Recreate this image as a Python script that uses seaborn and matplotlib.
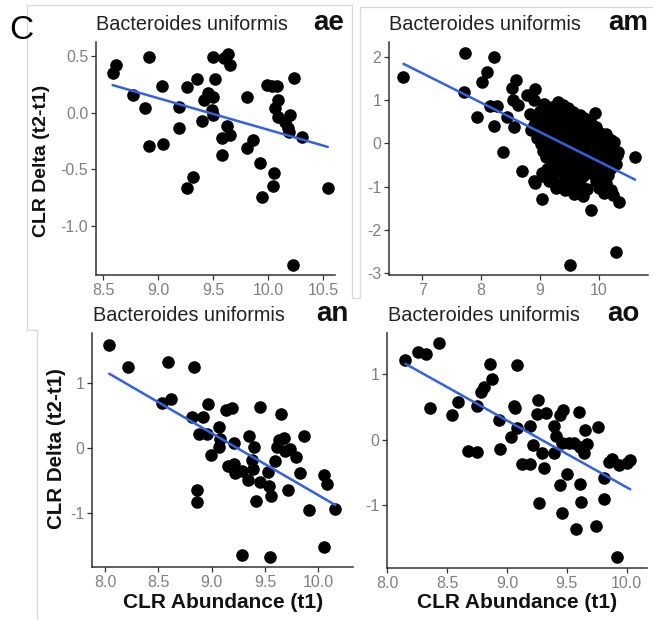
import matplotlib
matplotlib.use("Agg")
import matplotlib.pyplot as plt
from matplotlib.lines import Line2D
import seaborn as sns
import pandas as pd

# ---------------- data ----------------
title_text = "Bacteroides uniformis"
panel_tags = ["ae", "am", "an", "ao"]
ylabel_text = "CLR Delta (t2-t1)"
xlabel_text = "CLR Abundance (t1)"

ae_x = [8.585, 8.62, 8.77, 8.92, 8.88, 8.92, 9.045, 9.03, 9.19, 9.19, 9.26, 9.35, 9.26, 9.32,
        9.40, 9.42, 9.45, 9.50, 9.485, 9.50, 9.50, 9.515, 9.575, 9.575, 9.60, 9.636, 9.65, 9.62,
        9.65, 9.81, 9.81, 9.86, 9.92, 9.94, 9.985, 10.08, 10.03, 10.09, 10.06, 10.09, 10.15, 10.20,
        10.18, 10.19, 10.23, 10.05, 10.045, 10.31, 10.22, 10.54]
ae_y = [0.353, 0.42, 0.156, 0.494, 0.038, -0.29, -0.276, 0.235, 0.047, -0.138, 0.224, 0.294, -0.668, -0.57,
        -0.07, 0.112, 0.17, 0.14, 0.024, -0.02, 0.494, 0.30, -0.226, -0.37, 0.48, 0.52, 0.42, -0.12,
        -0.20, 0.135, -0.31, -0.24, -0.447, -0.747, 0.244, 0.235, 0.235, 0.11, 0.038, -0.035, -0.08, -0.02,
        -0.138, -0.17, 0.31, -0.535, -0.644, -0.21, -1.344, -0.665]

am_x = [6.68, 7.72, 8.21, 7.71, 7.93, 8.02, 8.09, 8.15, 8.26, 8.21, 8.37, 8.43, 8.52, 8.59, 8.54,
        8.63, 8.55, 8.69, 8.78, 8.92, 8.89, 8.83, 8.89, 9.03, 9.03, 9.50, 10.28, 10.61, 9.86, 10.34,
        9.06, 9.20, 9.30, 9.38, 9.47,
        9.00, 9.15, 9.25, 9.42, 9.55, 9.68, 9.93,
        8.98, 9.10, 9.20, 9.33, 9.50, 9.62, 9.75, 9.85,
        8.90, 9.05, 9.17, 9.28, 9.40, 9.52, 9.60, 9.70, 9.82, 9.95,
        8.85, 9.00, 9.12, 9.22, 9.35, 9.45, 9.57, 9.66, 9.78, 9.90, 10.02, 10.12,
        8.95, 9.08, 9.20, 9.30, 9.42, 9.50, 9.62, 9.72, 9.85, 9.96, 10.08, 10.20,
        9.02, 9.15, 9.27, 9.38, 9.48, 9.58, 9.68, 9.80, 9.90, 10.02, 10.15, 10.25,
        9.05, 9.20, 9.33, 9.45, 9.55, 9.65, 9.75, 9.88, 10.00, 10.10, 10.22, 10.32,
        9.10, 9.25, 9.40, 9.50, 9.60, 9.70, 9.82, 9.95, 10.05, 10.18, 10.30,
        9.20, 9.35, 9.48, 9.62, 9.78, 9.90, 10.02, 10.15, 10.28,
        9.12, 9.30, 9.45, 9.58, 9.70, 9.85, 9.98, 10.10, 10.20,
        9.05, 9.22, 9.42, 9.55, 9.72, 9.90, 10.05, 10.15,
        8.92, 9.15, 9.35, 9.50, 9.68, 9.95, 10.12,
        9.27, 9.42, 9.62, 9.80, 10.00, 10.20,
        9.58, 9.72, 10.08, 10.23]
am_y = [1.54, 2.09, 2.00, 1.19, 0.62, 1.42, 1.65, 0.86, 0.86, 0.40, -0.19, 0.62, 1.29, 1.46, 1.00,
        0.88, 0.38, -0.65, 1.12, 1.27, 1.00, 0.69, -0.88, -0.69, -1.29, -2.81, -2.52, -0.32, -1.55, -1.35,
        0.92, 0.85, 0.96, 0.90, 0.82,
        0.74, 0.78, 0.70, 0.76, 0.72, 0.66, 0.70,
        0.58, 0.62, 0.55, 0.60, 0.57, 0.52, 0.60, 0.55,
        0.42, 0.47, 0.40, 0.48, 0.44, 0.38, 0.46, 0.40, 0.47, 0.38,
        0.30, 0.25, 0.32, 0.27, 0.30, 0.24, 0.31, 0.26, 0.33, 0.28, 0.24, 0.22,
        0.12, 0.17, 0.10, 0.15, 0.13, 0.18, 0.10, 0.16, 0.12, 0.17, 0.10, 0.08,
        -0.02, 0.03, -0.04, 0.02, -0.03, 0.04, -0.02, 0.03, -0.05, 0.01, -0.03, 0.03,
        -0.18, -0.12, -0.16, -0.13, -0.19, -0.14, -0.17, -0.12, -0.18, -0.15, -0.13, -0.20,
        -0.32, -0.28, -0.33, -0.27, -0.31, -0.35, -0.29, -0.33, -0.28, -0.32, -0.27,
        -0.47, -0.43, -0.50, -0.44, -0.48, -0.45, -0.50, -0.43, -0.47,
        -0.60, -0.63, -0.58, -0.64, -0.60, -0.57, -0.62, -0.66, -0.58,
        -0.75, -0.78, -0.73, -0.80, -0.76, -0.72, -0.79, -0.74,
        -0.92, -0.88, -0.93, -0.90, -0.95, -0.88, -0.92,
        -1.04, -1.08, -1.02, -1.06, -1.03, -1.08,
        -1.18, -1.22, -1.15, -1.20]

an_x = [8.04, 8.22, 8.59, 8.83, 8.53, 8.62, 8.82, 8.92, 8.88, 8.97, 8.96, 9.07, 9.08, 9.07, 8.99,
        9.13, 9.19, 9.21, 9.15, 9.21, 9.22, 9.28, 9.34, 9.35, 9.40, 9.38, 9.39, 9.45, 9.45, 9.42,
        9.53, 9.54, 9.56, 9.59, 9.61, 9.63, 9.65, 9.68, 9.73, 9.72, 9.79, 9.83, 9.87, 9.91, 10.05,
        10.08, 10.16, 10.05, 9.28, 9.55, 8.86, 8.86, 9.69]
an_y = [1.59, 1.25, 1.32, 1.24, 0.69, 0.76, 0.47, 0.47, 0.22, 0.67, 0.22, 0.32, 0.14, 0.02, -0.11,
        0.58, 0.61, 0.07, -0.28, -0.25, -0.39, -0.35, -0.49, 0.19, 0.02, -0.19, -0.32, 0.63, -0.52, -0.81,
        -0.37, -0.59, -0.74, -0.20, 0.02, 0.12, 0.53, 0.16, -0.01, -0.64, -0.14, -0.38, 0.18, -0.95, -0.42,
        -0.55, -0.93, -1.52, -1.65, -1.68, -0.65, -0.83, -0.04]

ao_x = [8.15, 8.26, 8.32, 8.43, 8.36, 8.54, 8.59, 8.67, 8.75, 8.78, 8.81, 8.875, 8.86, 8.75, 8.93,
        8.94, 9.03, 9.08, 9.06, 9.07, 9.08, 9.125, 9.19, 9.19, 9.22, 9.26, 9.25, 9.29, 9.31, 9.27,
        9.33, 9.39, 9.41, 9.39, 9.44, 9.47, 9.44, 9.46, 9.46, 9.50, 9.52, 9.56, 9.60, 9.61, 9.61,
        9.62, 9.58, 9.64, 9.65, 9.67, 9.74, 9.76, 9.81, 9.81, 9.85, 9.88, 9.94, 10.00, 10.03, 9.92]
ao_y = [1.22, 1.33, 1.31, 1.47, 0.48, 0.37, 0.58, -0.17, -0.19, 0.73, 0.80, 0.92, 1.16, 0.51, 0.30,
        -0.15, 0.04, 0.17, 0.51, 0.48, 1.14, -0.38, -0.38, 0.21, -0.08, 0.60, 0.39, -0.21, -0.44, -0.97,
        0.40, 0.21, 0.05, -0.21, 0.37, 0.45, -0.69, -1.12, -0.05, -0.52, -0.05, -0.06, 0.42, -0.11, -0.68,
        -0.95, -1.36, -0.21, 0.15, -0.07, -1.32, 0.19, -0.59, -0.90, -0.35, -0.30, -0.39, -0.36, -0.31, -1.79]

# ticks
ae_xticks = [8.5, 9.0, 9.5, 10.0, 10.5]
ae_yticks = [-1.0, -0.5, 0.0, 0.5]
am_xticks = [7, 8, 9, 10]
am_yticks = [-3, -2, -1, 0, 1, 2]
an_xticks = [8.0, 8.5, 9.0, 9.5, 10.0]
an_yticks = [-1, 0, 1]
ao_xticks = [8.0, 8.5, 9.0, 9.5, 10.0]
ao_yticks = [-1, 0, 1]

# ---------------- style ----------------
sns.set_theme(style="white")
plt.rcParams["font.family"] = ["Liberation Sans", "DejaVu Sans"]
plt.rcParams["axes.unicode_minus"] = False

W, H = 653, 620
fig = plt.figure(figsize=(W / 100, H / 100), dpi=100)
fig.patch.set_facecolor("white")


def pos(l, t, r, b):
    return [l / W, 1 - b / H, (r - l) / W, (b - t) / H]


def fx(x):
    return x / W


def fy(y):
    return 1 - y / H


LINE_BLUE = "#3462dc"
TICK_GRAY = "#808080"
AX_COL = "#333333"


def panel(rect, xs, ys, xlim, ylim, xticks, yticks, xfmt, yfmt):
    ax = fig.add_axes(rect)
    df = pd.DataFrame({"x": xs, "y": ys})
    sns.regplot(data=df, x="x", y="y", ax=ax, ci=None, truncate=True,
                scatter_kws=dict(s=82, color="black", alpha=1, linewidths=0, zorder=2),
                line_kws=dict(color=LINE_BLUE, lw=1.8, zorder=3))
    ax.set_xlim(*xlim)
    ax.set_ylim(*ylim)
    ax.set_xticks(xticks)
    ax.set_yticks(yticks)
    ax.set_xticklabels([xfmt.format(v) for v in xticks])
    ax.set_yticklabels([yfmt.format(v) for v in yticks])
    ax.set_xlabel("")
    ax.set_ylabel("")
    for s in ["top", "right"]:
        ax.spines[s].set_visible(False)
    for s in ["left", "bottom"]:
        ax.spines[s].set_color(AX_COL)
        ax.spines[s].set_linewidth(1.1)
    ax.tick_params(axis="both", which="major", length=3.5, width=0.9, color=AX_COL,
                   labelcolor=TICK_GRAY, labelsize=11.5, pad=2, bottom=True, left=True)
    ax.set_facecolor("white")
    ax.grid(False)
    return ax


panel(pos(96, 42, 335, 275), ae_x, ae_y, (8.434, 10.606), (-1.432, 0.624),
      ae_xticks, ae_yticks, "{:.1f}", "{:.1f}")
panel(pos(389, 42, 648, 275), am_x, am_y, (6.435, 10.83), (-3.05, 2.35),
      am_xticks, am_yticks, "{:d}", "{:d}")
panel(pos(92, 333, 353, 567), an_x, an_y, (7.878, 10.325), (-1.83, 1.77),
      an_xticks, an_yticks, "{:.1f}", "{:d}")
panel(pos(387, 333, 647, 568), ao_x, ao_y, (7.997, 10.17), (-1.96, 1.626),
      ao_xticks, ao_yticks, "{:.1f}", "{:d}")

# titles and panel tags
title_pos = [(96, 30), (389, 30), (93, 321), (388, 321)]
tag_pos = [(313, 30), (608, 30), (316, 321), (607, 321)]
for (tx, ty), (gx, gy), tag in zip(title_pos, tag_pos, panel_tags):
    fig.text(fx(tx), fy(ty), title_text, fontsize=14.3, color="#222222",
             ha="left", va="baseline")
    fig.text(fx(gx), fy(gy), tag, fontsize=20, fontweight="bold", color="#111111",
             ha="left", va="baseline")

# axis labels
fig.text(fx(42), fy(161), ylabel_text, rotation=90, fontsize=14, fontweight="bold",
         color="#111111", ha="center", va="center")
fig.text(fx(56), fy(449), ylabel_text, rotation=90, fontsize=14.8, fontweight="bold",
         color="#111111", ha="center", va="center")
fig.text(fx(223), fy(603), xlabel_text, fontsize=15, fontweight="bold",
         color="#111111", ha="center", va="center")
fig.text(fx(517), fy(603), xlabel_text, fontsize=15, fontweight="bold",
         color="#111111", ha="center", va="center")

# big figure letter
fig.text(fx(9), fy(39), "C", fontsize=24, color="black", ha="left", va="baseline")

# faint panel frames (screenshot compositing borders)
frame_segments = [
    ((27, 5), (27, 330)),
    ((27, 5), (352, 5)),
    ((352, 5), (352, 298)),
    ((27, 330), (37, 330)),
    ((37, 330), (37, 620)),
    ((360, 7), (360, 298)),
    ((352, 298), (360, 298)),
    ((360, 7), (653, 7)),
]
for (x0, y0), (x1, y1) in frame_segments:
    fig.add_artist(Line2D([fx(x0), fx(x1)], [fy(y0), fy(y1)], transform=fig.transFigure,
                          color="#d8d8d8", lw=0.9))

fig.savefig("out.png", dpi=100, facecolor="white")
